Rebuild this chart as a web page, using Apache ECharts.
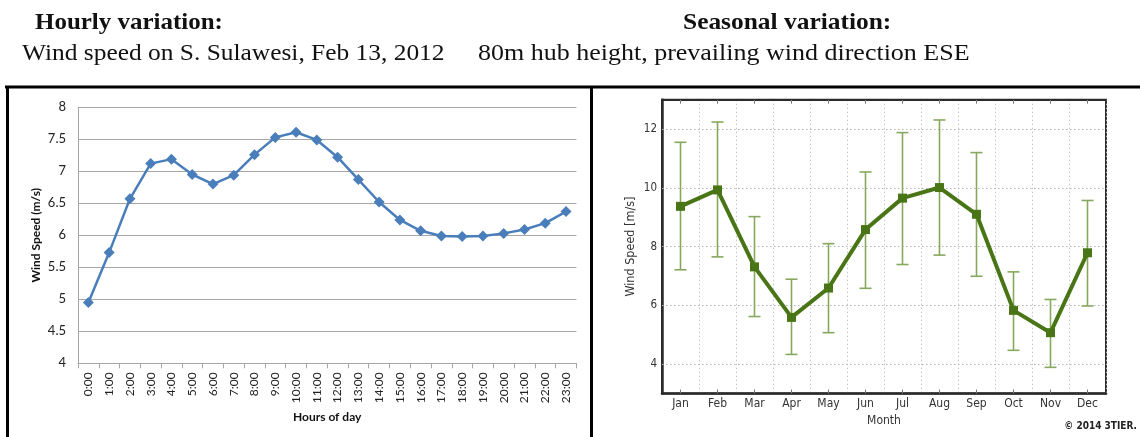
<!DOCTYPE html>
<html>
<head>
<meta charset="utf-8">
<script src="https://cdn.jsdelivr.net/npm/echarts@6/dist/echarts.min.js"></script>
<style>
  html, body { margin: 0; padding: 0; background: #fff; }
  #chart { width: 1140px; height: 437px; }
</style>
</head>
<body>
<div id="chart"></div>
<script>
// Hourly wind speed, S. Sulawesi, Feb 13 2012
const hours = ['0:00','1:00','2:00','3:00','4:00','5:00','6:00','7:00','8:00','9:00','10:00','11:00',
               '12:00','13:00','14:00','15:00','16:00','17:00','18:00','19:00','20:00','21:00','22:00','23:00'];
const hourlySpeed = [4.95, 5.73, 6.57, 7.12, 7.19, 6.95, 6.80, 6.94, 7.26, 7.53, 7.61, 7.49,
                     7.22, 6.87, 6.52, 6.24, 6.07, 5.99, 5.98, 5.99, 6.03, 6.09, 6.19, 6.37];

// Monthly mean wind speed at 80 m with variability range
const months = ['Jan','Feb','Mar','Apr','May','Jun','Jul','Aug','Sep','Oct','Nov','Dec'];
const monthlyMean = [9.37, 9.93, 7.31, 5.59, 6.59, 8.58, 9.65, 10.01, 9.10, 5.83, 5.07, 7.79];
const monthlyHigh = [11.55, 12.24, 9.02, 6.89, 8.10, 10.54, 11.88, 12.31, 11.20, 7.14, 6.20, 9.57];
const monthlyLow  = [7.21, 7.65, 5.62, 4.33, 5.07, 6.58, 7.39, 7.71, 6.99, 4.47, 3.89, 5.98];
const seasonalTicks = [4, 6, 8, 10, 12];

const chart = echarts.init(document.getElementById('chart'), null, { renderer: 'canvas' });

const excelGrey = '#a6a6a6';
const darkGreen = '#4a7516';
const lightGreen = '#86a85e';
const condensed = 'DejaVu Sans Condensed';

// heading text, stretched horizontally to the serif face it is set in
function heading(text, x, y, bold, sx) {
  return {
    type: 'text', x: x, y: y, scaleX: sx, scaleY: 1,
    style: {
      text: text,
      font: (bold ? 'bold ' : '') + '23px "Liberation Serif"',
      fill: '#111', align: 'left', verticalAlign: 'middle'
    }
  };
}

const option = {
  backgroundColor: '#ffffff',
  animation: false,
  grid: [
    { left: 78, top: 107.3, width: 498.4, height: 256 },
    { left: 662, top: 99.7, width: 444, height: 293.8, show: true, borderColor: '#2b2b2b', borderWidth: 2, backgroundColor: 'transparent' }
  ],
  xAxis: [
    {
      gridIndex: 0, type: 'category', data: hours, boundaryGap: true,
      name: 'Hours of day', nameLocation: 'middle', nameGap: 48,
      nameTextStyle: { fontFamily: 'Lato', fontWeight: 'bold', fontSize: 12, color: '#111' },
      axisLine: { lineStyle: { color: excelGrey, width: 1 } },
      axisTick: { show: true, length: 5, lineStyle: { color: excelGrey } },
      axisLabel: { rotate: 90, fontFamily: 'Lato', fontSize: 12, color: '#222', margin: 9, interval: 0 },
      splitLine: { show: false }
    },
    {
      gridIndex: 1, type: 'category', data: months, boundaryGap: true,
      name: 'Month', nameLocation: 'middle', nameGap: 20,
      nameTextStyle: { fontFamily: condensed, fontSize: 12, color: '#333' },
      axisLine: { lineStyle: { color: '#2b2b2b', width: 2.5 } },
      axisTick: { show: true, inside: true, alignWithLabel: true, length: 4, lineStyle: { color: '#777' } },
      axisLabel: { fontFamily: condensed, fontSize: 12, color: '#333', margin: 4, interval: 0 },
      splitLine: { show: true, interval: 0, lineStyle: { color: '#c4c4c4', type: [1.5, 2.5], width: 1 } }
    },
    {
      gridIndex: 1, type: 'category', data: months, boundaryGap: true, position: 'top',
      axisLine: { lineStyle: { color: '#2b2b2b', width: 2 } },
      axisTick: { show: true, inside: true, alignWithLabel: true, length: 4, lineStyle: { color: '#777' } },
      axisLabel: { show: false },
      splitLine: { show: false }
    }
  ],
  yAxis: [
    {
      gridIndex: 0, type: 'value', min: 4, max: 8, interval: 0.5,
      name: 'Wind Speed (m/s)', nameLocation: 'middle', nameGap: 36,
      nameTextStyle: { fontFamily: 'Lato', fontWeight: 'bold', fontSize: 12, color: '#111' },
      axisLine: { show: true, lineStyle: { color: excelGrey, width: 1 } },
      axisTick: { show: false },
      axisLabel: { fontFamily: 'Lato', fontSize: 13, color: '#222', margin: 12 },
      splitLine: { show: true, lineStyle: { color: excelGrey, width: 1 } }
    },
    {
      gridIndex: 1, type: 'value', min: 3, max: 13, interval: 1,
      name: 'Wind Speed [m/s]', nameLocation: 'middle', nameGap: 25,
      nameTextStyle: { fontFamily: condensed, fontSize: 12.5, color: '#333' },
      axisLine: { show: true, lineStyle: { color: '#2b2b2b', width: 2.5 } },
      axisTick: { show: false },
      axisLabel: {
        fontFamily: condensed, fontSize: 11.5, color: '#333', margin: 5,
        formatter: v => (seasonalTicks.indexOf(v) >= 0 ? String(v) : '')
      },
      splitLine: { show: false }
    }
  ],
  series: [
    {
      type: 'line', xAxisIndex: 0, yAxisIndex: 0, data: hourlySpeed,
      symbol: 'diamond', symbolSize: 11,
      lineStyle: { color: '#4a7ebb', width: 2.5 },
      itemStyle: { color: '#4a7ebb' }
    },
    {
      // variability whiskers
      type: 'custom', xAxisIndex: 1, yAxisIndex: 1,
      data: months.map((m, i) => [i, monthlyLow[i], monthlyHigh[i]]),
      renderItem: function (params, api) {
        const x = api.value(0);
        const lo = api.coord([x, api.value(1)]);
        const hi = api.coord([x, api.value(2)]);
        const half = 6;
        const style = { stroke: lightGreen, lineWidth: 1.6 };
        return {
          type: 'group',
          children: [
            { type: 'line', shape: { x1: lo[0], y1: lo[1], x2: hi[0], y2: hi[1] }, style },
            { type: 'line', shape: { x1: hi[0] - half, y1: hi[1], x2: hi[0] + half, y2: hi[1] }, style },
            { type: 'line', shape: { x1: lo[0] - half, y1: lo[1], x2: lo[0] + half, y2: lo[1] }, style }
          ]
        };
      },
      z: 3
    },
    {
      type: 'line', xAxisIndex: 1, yAxisIndex: 1, data: monthlyMean,
      symbol: 'rect', symbolSize: 9,
      lineStyle: { color: darkGreen, width: 4 },
      itemStyle: { color: darkGreen },
      z: 4,
      markLine: {
        silent: true, symbol: ['none', 'none'],
        label: { show: false },
        lineStyle: { color: '#b4b4b4', type: [1.5, 2.5], width: 1 },
        data: seasonalTicks.map(v => ({ yAxis: v })),
        z: 1
      }
    }
  ],
  graphic: [
    heading('Hourly variation:', 35, 23, true, 1.085),
    heading('Seasonal variation:', 683, 23, true, 1.105),
    heading('Wind speed on S. Sulawesi, Feb 13, 2012', 22, 54, false, 1.105),
    heading('80m hub height, prevailing wind direction ESE', 478, 54, false, 1.13),
    { type: 'text', right: 3, top: 421, style: { text: '\u00a9 2014 3TIER.', font: 'bold 10px "DejaVu Sans Condensed"', fill: '#222' } },
    // panel frames
    { type: 'line', shape: { x1: 5, y1: 87, x2: 1140, y2: 87 }, style: { stroke: '#000', lineWidth: 3 } },
    { type: 'line', shape: { x1: 7.5, y1: 86, x2: 7.5, y2: 437 }, style: { stroke: '#000', lineWidth: 3 } },
    { type: 'line', shape: { x1: 591.5, y1: 86, x2: 591.5, y2: 437 }, style: { stroke: '#000', lineWidth: 3 } }
  ]
};

chart.setOption(option);
</script>
</body>
</html>
